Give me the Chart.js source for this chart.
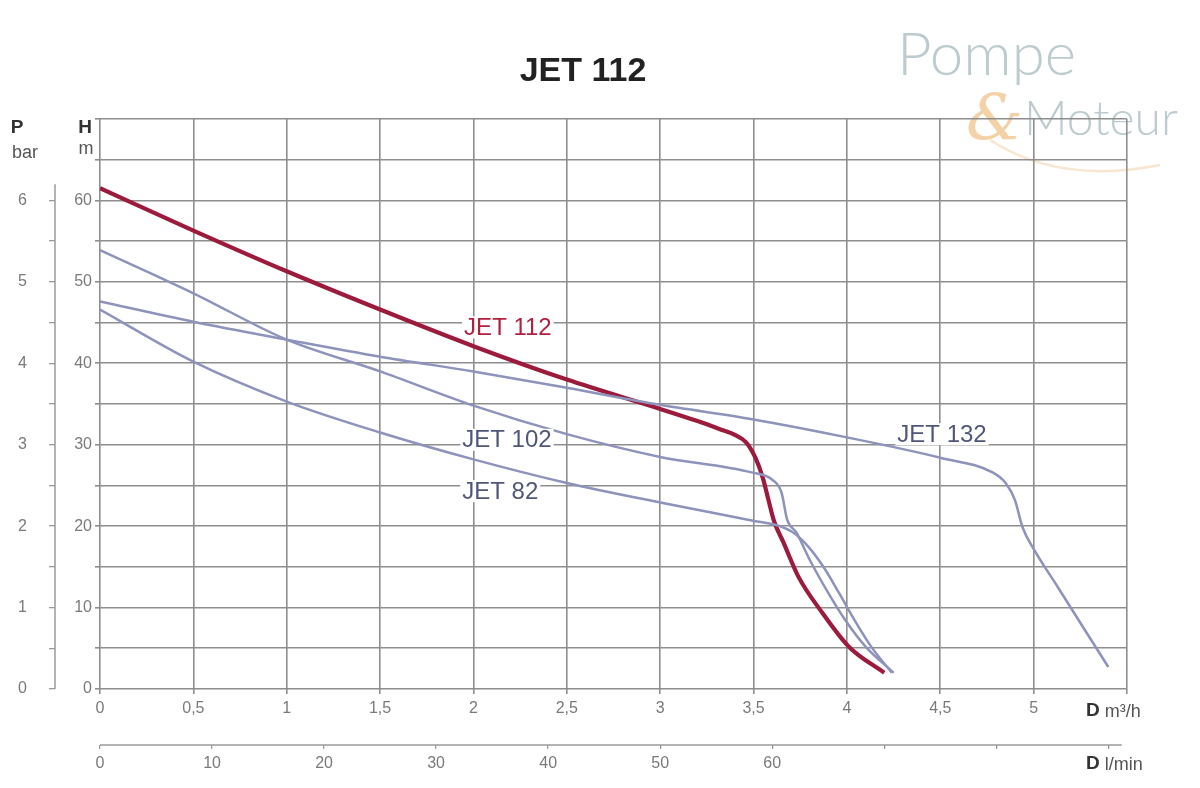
<!DOCTYPE html>
<html><head><meta charset="utf-8">
<script src="https://cdn.jsdelivr.net/npm/chart.js@4/dist/chart.umd.min.js"></script>
<style>html,body{margin:0;padding:0;background:#fff;}</style>
</head><body>
<canvas id="c" width="1200" height="788"></canvas>
<script>
// ---- data ----
const chartTitle = "JET 112";
const seriesNames = ["JET 112", "JET 102", "JET 82", "JET 132"];

const jet112Q = [0, 0.5, 1, 1.5, 2, 2.5, 3, 3.2, 3.32, 3.4, 3.46, 3.51, 3.55, 3.58, 3.61, 3.66, 3.74, 3.87, 4.01, 4.2];
const jet112H = [61.5, 56.3, 51.3, 46.6, 42.1, 38.0, 34.4, 32.9, 31.9, 31.2, 30.3, 28.4, 25.9, 23.2, 20.6, 18.0, 13.8, 9.3, 5.2, 2.0];

const jet102Q = [0, 0.5, 1, 1.5, 2, 2.5, 3, 3.49, 3.6, 3.65, 3.68, 3.73, 3.8, 3.9, 3.99, 4.1, 4.25];
const jet102H = [53.9, 48.6, 42.9, 39.0, 34.8, 31.3, 28.5, 26.6, 25.7, 24.1, 20.8, 19.2, 15.9, 11.8, 8.5, 5.2, 2.0];

const jet82Q = [0, 0.5, 1, 1.5, 2, 2.5, 3, 3.49, 3.64, 3.72, 3.8, 3.88, 3.96, 4.04, 4.13, 4.24];
const jet82H = [46.6, 40.2, 35.3, 31.5, 28.2, 25.3, 22.9, 20.7, 20.0, 19.1, 17.3, 14.8, 11.7, 8.5, 5.2, 2.0];

const jet132Q = [0, 0.5, 1, 1.5, 2, 2.5, 3, 3.5, 4, 4.5, 4.78, 4.85, 4.9, 4.94, 5.0, 5.13, 5.27, 5.4];
const jet132H = [47.6, 45.1, 42.9, 40.8, 39.0, 37.0, 34.9, 33.1, 30.9, 28.4, 26.6, 25.3, 23.2, 19.9, 17.2, 12.5, 7.4, 2.7];

const flowMax = 5.5;          // m3/h
const headMax = 70;           // m
const flowStep = 0.5;
const headStep = 5;
const litreTicks = [0, 10, 20, 30, 40, 50, 60, 70, 80, 90];
const litreLabelMax = 60;
const barLabelMax = 6;

// ---- helpers ----
const zip = (qs, hs) => qs.map((q, i) => ({x: q, y: hs[i]}));
const fmt = v => String(Math.round(v * 10) / 10).replace('.', ',');

const RED = '#9c1a3c';
const BLUE = '#8d93bb';
const GRID = '#8e8e8e';
const TICK = '#7a7a7a';

const decor = {
  id: 'decor',
  beforeDraw(chart) {
    const ctx = chart.ctx;
    ctx.save();
    // watermark
    ctx.fillStyle = '#bccbcf';
    ctx.font = '300 60px Lato';
    ctx.textBaseline = 'alphabetic';
    ctx.fillText('Pompe', 897, 75);
    ctx.font = '300 48px Lato';
    ctx.fillText('Moteur', 1024, 135);
    ctx.fillStyle = 'rgba(240,190,130,0.7)';
    ctx.font = 'italic 300 64px "DejaVu Serif"';
    ctx.fillText('&', 966, 140);
    ctx.strokeStyle = 'rgba(240,200,150,0.45)';
    ctx.lineWidth = 2.5;
    ctx.beginPath();
    ctx.moveTo(990, 140);
    ctx.quadraticCurveTo(1060, 185, 1160, 165);
    ctx.stroke();
    ctx.restore();
  },
  afterDatasetsDraw(chart) {
    const ctx = chart.ctx;
    const xs = chart.scales.x, ys = chart.scales.y, yp = chart.scales.yP, x2 = chart.scales.x2;
    ctx.save();
    // title
    ctx.fillStyle = '#222';
    ctx.font = 'bold 34px "Liberation Sans"';
    ctx.textAlign = 'center';
    ctx.textBaseline = 'middle';
    ctx.fillText(chartTitle, 583, 72);

    // curve labels (with white backing)
    const labels = [
      {t: seriesNames[0], q: 1.95, h: 44.4, c: '#b0203f'},
      {t: seriesNames[1], q: 1.94, h: 30.6, c: '#4f5679'},
      {t: seriesNames[2], q: 1.94, h: 24.3, c: '#4f5679'},
      {t: seriesNames[3], q: 4.27, h: 31.3, c: '#4f5679'}
    ];
    ctx.font = '24px "Liberation Sans"';
    ctx.textAlign = 'left';
    labels.forEach(l => {
      const px = xs.getPixelForValue(l.q), py = ys.getPixelForValue(l.h);
      const w = ctx.measureText(l.t).width;
      ctx.fillStyle = '#fff';
      ctx.fillRect(px - 2, py - 11, w + 4, 22);
      ctx.fillStyle = l.c;
      ctx.fillText(l.t, px, py + 1);
    });

    // P axis line (partial)
    ctx.strokeStyle = '#9a9a9a';
    ctx.lineWidth = 1.5;
    ctx.beginPath();
    ctx.moveTo(yp.right, yp.getPixelForValue(6.2));
    ctx.lineTo(yp.right, yp.getPixelForValue(0));
    ctx.stroke();

    // l/min axis line (partial)
    ctx.beginPath();
    ctx.moveTo(x2.getPixelForValue(0), x2.top);
    ctx.lineTo(x2.getPixelForValue(91.2), x2.top);
    ctx.stroke();

    // axis captions
    ctx.textBaseline = 'middle';
    ctx.textAlign = 'left';
    const cap = (bold, rest, x, y) => {
      ctx.font = 'bold 19px "Liberation Sans"';
      ctx.fillStyle = '#333';
      ctx.fillText(bold, x, y);
      const w = ctx.measureText(bold).width;
      ctx.font = '18px "Liberation Sans"';
      ctx.fillStyle = '#555';
      ctx.fillText(rest, x + w + 5, y + 1);
    };
    cap('D', 'm³/h', 1086, 711);
    cap('D', 'l/min', 1086, 764);

    ctx.font = 'bold 19px "Liberation Sans"';
    ctx.fillStyle = '#333';
    ctx.textAlign = 'center';
    ctx.fillText('P', 17, 128);
    ctx.fillText('H', 85, 128);
    ctx.font = '18px "Liberation Sans"';
    ctx.fillStyle = '#555';
    ctx.fillText('bar', 25, 153);
    ctx.fillText('m', 86, 149);
    ctx.restore();
  }
};

const lineDs = (label, qs, hs, color, width) => ({
  label, data: zip(qs, hs), borderColor: color, borderWidth: width,
  pointRadius: 0, fill: false, cubicInterpolationMode: 'monotone',
  xAxisID: 'x', yAxisID: 'y'
});

new Chart(document.getElementById('c'), {
  type: 'line',
  data: {
    datasets: [
      lineDs(seriesNames[3], jet132Q, jet132H, BLUE, 2.5),
      lineDs(seriesNames[2], jet82Q, jet82H, BLUE, 2.5),
      lineDs(seriesNames[1], jet102Q, jet102H, BLUE, 2.5),
      lineDs(seriesNames[0], jet112Q, jet112H, RED, 4.2)
    ]
  },
  options: {
    responsive: false,
    animation: false,
    devicePixelRatio: 1,
    layout: {padding: {top: 119, right: 73, bottom: 0, left: 0}},
    plugins: {legend: {display: false}, tooltip: {enabled: false}, title: {display: false}},
    scales: {
      x: {
        type: 'linear', position: 'bottom', min: 0, max: flowMax,
        afterFit: s => { s.height = 56; },
        grid: {color: GRID, lineWidth: 1.6, tickLength: 5, tickColor: GRID},
        border: {display: false},
        ticks: {stepSize: flowStep, color: TICK, font: {size: 16, family: 'Liberation Sans'}, padding: 5,
          autoSkip: false, maxRotation: 0,
          callback: v => (v >= flowMax - 1e-6 ? '' : fmt(v))}
      },
      x2: {
        type: 'linear', position: 'bottom', min: 0, max: flowMax * 1000 / 60,
        afterFit: s => { s.height = 43; },
        afterBuildTicks: s => { s.ticks = litreTicks.map(v => ({value: v})); },
        grid: {drawOnChartArea: false, tickLength: 4, tickColor: '#9a9a9a', lineWidth: 1.3},
        border: {display: false},
        ticks: {color: TICK, font: {size: 16, family: 'Liberation Sans'}, padding: 5,
          autoSkip: false, maxRotation: 0,
          callback: v => (v <= litreLabelMax ? String(v) : '')}
      },
      y: {
        type: 'linear', position: 'left', min: 0, max: headMax, weight: 0,
        afterFit: s => { s.width = 45; },
        grid: {color: GRID, lineWidth: 1.6, tickLength: 5, tickColor: GRID},
        border: {display: false},
        ticks: {stepSize: headStep, color: TICK, font: {size: 16, family: 'Liberation Sans'}, padding: 3,
          autoSkip: false,
          callback: v => (v % 10 === 0 && v <= 60 ? String(v) : '')}
      },
      yP: {
        type: 'linear', position: 'left', min: 0, max: headMax / 10, weight: 1,
        afterFit: s => { s.width = 55; },
        afterBuildTicks: s => { s.ticks = s.ticks.filter(t => t.value <= barLabelMax + 1e-6); },
        grid: {drawOnChartArea: false, tickLength: 6, tickColor: '#9a9a9a', lineWidth: 1.3},
        border: {display: false},
        ticks: {stepSize: 0.5, color: TICK, font: {size: 16, family: 'Liberation Sans'}, padding: 22,
          autoSkip: false,
          callback: v => (Math.abs(v - Math.round(v)) < 1e-6 ? String(v) : '')}
      }
    }
  },
  plugins: [decor]
});
</script>
</body></html>
